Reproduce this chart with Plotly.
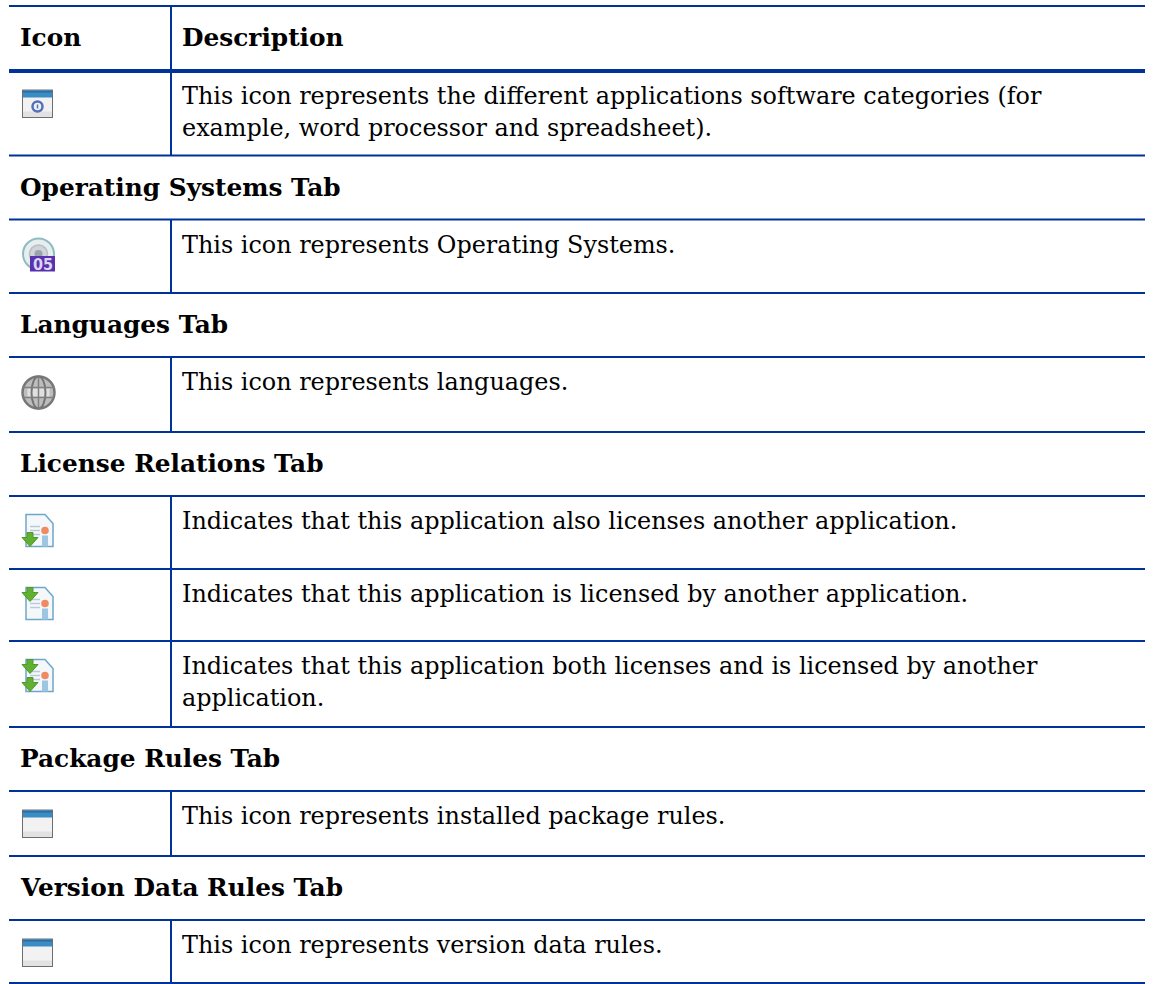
import plotly.graph_objects as go

W, H = 1155, 984
BLUE = "#003399"
FONT = "DejaVu Serif"

# --- content ---
header = ["Icon", "Description"]
rows = [
    ("icon", "window_gear", ["This icon represents the different applications software categories (for",
                             "example, word processor and spreadsheet)."]),
    ("section", "Operating Systems Tab"),
    ("icon", "os", ["This icon represents Operating Systems."]),
    ("section", "Languages Tab"),
    ("icon", "globe", ["This icon represents languages."]),
    ("section", "License Relations Tab"),
    ("icon", "lic_down", ["Indicates that this application also licenses another application."]),
    ("icon", "lic_up", ["Indicates that this application is licensed by another application."]),
    ("icon", "lic_both", ["Indicates that this application both licenses and is licensed by another",
                          "application."]),
    ("section", "Package Rules Tab"),
    ("icon", "window", ["This icon represents installed package rules."]),
    ("section", "Version Data Rules Tab"),
    ("icon", "window", ["This icon represents version data rules."]),
]

# --- layout geometry (page pixels) ---
rule_y = [71, 155.5, 219.5, 293, 357, 432, 496, 569, 641, 727, 791, 856, 920, 983]
top_y = 6
LEFT, RIGHT, COL = 9, 1145, 171
TEXT_X, SEC_X, ICON_X = 180, 18, 22
FS = 23.9
FS_B = 24.8
LINE_GAP = 32

shapes, ann = [], []

def rect(x0, y0, x1, y1, fill, line=None, lw=0):
    shapes.append(dict(type="rect", x0=x0, y0=y0, x1=x1, y1=y1, fillcolor=fill,
                       line=dict(color=line or fill, width=lw), layer="above"))

def line(x0, y0, x1, y1, color=BLUE, w=2):
    shapes.append(dict(type="line", x0=x0, y0=y0, x1=x1, y1=y1, line=dict(color=color, width=w), layer="above"))

def circle(cx, cy, r, fill, lc=None, lw=0):
    shapes.append(dict(type="circle", x0=cx-r, y0=cy-r, x1=cx+r, y1=cy+r, fillcolor=fill,
                       line=dict(color=lc or fill, width=lw), layer="above"))

def path(d, fill="rgba(0,0,0,0)", lc=None, lw=0):
    shapes.append(dict(type="path", path=d, fillcolor=fill, line=dict(color=lc or fill, width=lw), layer="above"))

def text(x, y, s, bold=False, size=None):
    ann.append(dict(x=x, y=y, text=f"<b>{s}</b>" if bold else s, showarrow=False, xanchor="left", yanchor="middle",
                    xref="x", yref="y", font=dict(family=FONT, size=size or (FS_B if bold else FS), color="#000000")))

def ic_window(t, gear=False):
    x0, x1 = ICON_X, ICON_X + 31
    rect(x0, t, x1, t + 28.5, "#6e6e6e")
    rect(x0 + 1, t + 1, x1 - 1, t + 27.5, "#f2f2f2")
    rect(x0 + 1, t + 1, x1 - 1, t + 8, "#3a8cc4")
    rect(x0 + 1, t + 1, x1 - 1, t + 3, "#2a6da3")
    rect(x0 + 1, t + 22, x1 - 1, t + 27.5, "#e2e2e2")
    if gear:
        circle(x0 + 15.5, t + 17, 5, "#eef1f8", "#5570b5", 2.5)
        line(x0 + 15.5, t + 15, x0 + 15.5, t + 19, "#5570b5", 1.5)

def ic_os(t):
    cx = 38.5
    circle(cx, t + 16, 15.5, "#e6eef0", "#8fbcc4", 2)
    circle(cx, t + 16, 9, "#d0d4d8", "#b7bec4", 1.5)
    circle(cx, t + 16, 4, "#9aa3ac")
    rect(30, t + 18, 55, t + 33.5, "#5a31ad")
    ann.append(dict(x=42.5, y=t + 26, text="<b>05</b>", showarrow=False, xanchor="center", yanchor="middle",
                    font=dict(family="DejaVu Sans Condensed", size=16, color="#dcd6f5")))

def ic_globe(t):
    cx, cy, r = 38.5, t + 17, 16
    circle(cx, cy, r, "#bdbdbd", "#777777", 2.5)
    rect(cx - 11, cy - 4, cx + 11, cy + 4, "#e0e0e0")
    shapes.append(dict(type="circle", x0=cx-7, y0=cy-r, x1=cx+7, y1=cy+r, fillcolor="rgba(0,0,0,0)",
                       line=dict(color="#757575", width=2), layer="above"))
    line(cx, cy - r, cx, cy + r, "#808080", 1.5)
    line(cx - r, cy - 5, cx + r, cy - 5, "#808080", 1.5)
    line(cx - r, cy + 5, cx + r, cy + 5, "#808080", 1.5)

def arrow(x, y):
    path(f"M{x+5},{y} L{x+11},{y} L{x+11},{y+5} L{x+16},{y+5} L{x+8},{y+14} L{x},{y+5} L{x+5},{y+5} Z",
         "#62b032", "#4f9a2a", 1)

def ic_doc(t, up=False, down=False):
    x0, x1 = 26, 53
    b = t + 32
    path(f"M{x0},{t} L{x1-8},{t} L{x1},{t+9} L{x1},{b} L{x0},{b} Z", "#f4f8fb", "#6ea6c9", 1.5)
    for yy in (t + 12, t + 16, t + 20):
        line(x0 + 4, yy, x0 + 14, yy, "#b8cbd9", 1.5)
    circle(x1 - 8, t + 16, 3.8, "#f08a63")
    rect(x1 - 11, t + 21, x1 - 5, b, "#9cc6e2")
    if up:
        arrow(22, t)
    if down:
        arrow(22, t + 18)

icons = {
    "window_gear": lambda t: ic_window(t, True),
    "window": lambda t: ic_window(t),
    "os": lambda t: ic_os(t),
    "globe": lambda t: ic_globe(t),
    "lic_down": lambda t: ic_doc(t, down=True),
    "lic_up": lambda t: ic_doc(t, up=True),
    "lic_both": lambda t: ic_doc(t, up=True, down=True),
}

# --- rules ---
line(LEFT, top_y, RIGHT, top_y, w=2)
for i, y in enumerate(rule_y):
    line(LEFT, y, RIGHT, y, w=4 if i == 0 else 2)

line(COL, top_y, COL, rule_y[0])
tops = rule_y[:-1]
bots = rule_y[1:]

# --- header ---
text(SEC_X, 37.5, header[0], bold=True)
text(TEXT_X, 37.5, header[1], bold=True)

# --- rows ---
for r, t, b in zip(rows, tops, bots):
    if r[0] == "section":
        text(SEC_X, (t + b) / 2 - 0.5, r[1], bold=True)
    else:
        line(COL, t, COL, b)
        icons[r[1]](t + 18.5)
        for j, s in enumerate(r[2]):
            text(TEXT_X, t + 25 + j * LINE_GAP, s)

fig = go.Figure()
fig.update_layout(
    width=W, height=H, margin=dict(l=0, r=0, t=0, b=0), showlegend=False,
    paper_bgcolor="white", plot_bgcolor="white",
    xaxis=dict(range=[0, W], visible=False, fixedrange=True),
    yaxis=dict(range=[H, 0], visible=False, fixedrange=True),
    shapes=shapes, annotations=ann,
)
fig.write_html("out.html", config=dict(displayModeBar=False),
               post_script="document.body.style.margin='0';document.body.style.overflow='hidden';")
